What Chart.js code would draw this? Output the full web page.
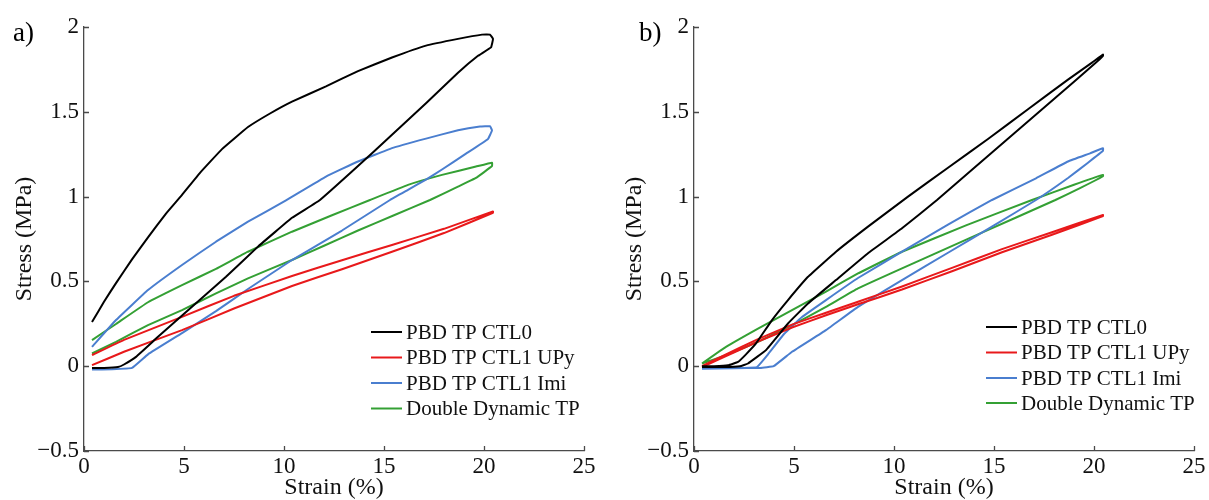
<!DOCTYPE html>
<html><head><meta charset="utf-8">
<script src="https://cdn.jsdelivr.net/npm/chart.js@4.4.0/dist/chart.umd.min.js"></script>
<style>
html,body{margin:0;padding:0;background:#fff;}
#wrap{position:relative;width:1209px;height:500px;overflow:hidden;background:#fff;}
.panel{position:absolute;top:0;height:500px;}
#pa{left:0;width:604px;}
#pb{left:604px;width:605px;}
.lbl{position:absolute;font-family:'Liberation Serif','Times New Roman',serif;font-size:27px;color:#000;line-height:1;}
</style></head><body>
<div id="wrap">
<div class="panel" id="pa"><canvas id="ca" width="604" height="500"></canvas></div>
<div class="panel" id="pb"><canvas id="cb" width="605" height="500"></canvas></div>
<div class="lbl" style="left:13px;top:19px">a)</div>
<div class="lbl" style="left:639px;top:19px">b)</div>
</div>
<script>
// ---------- data ----------
const seriesNames = ['PBD TP CTL0', 'PBD TP CTL1 UPy', 'PBD TP CTL1 Imi', 'Double Dynamic TP'];
const xTickValues = [0, 5, 10, 15, 20, 25];
const xTickLabels = ['0', '5', '10', '15', '20', '25'];
const yTickValues = [-0.5, 0, 0.5, 1, 1.5, 2];
const yTickLabels = ['\u22120.5', '0', '0.5', '1', '1.5', '2'];

// Panel a
const strainA_CTL0 = [0.4, 1.0, 1.6, 2.4, 3.2, 4.1, 4.9, 5.8, 6.9, 8.2, 9.3, 10.4, 12.1, 13.7, 15.4, 17.1, 18.7, 19.9, 20.3, 20.45, 20.35, 19.7, 18.7, 17.1, 15.4, 13.7, 11.8, 10.4, 8.7, 7.1, 5.4, 3.7, 2.6, 2.0, 1.7, 1.0, 0.4];
const stressA_CTL0 = [0.26, 0.38, 0.49, 0.63, 0.76, 0.90, 1.01, 1.14, 1.28, 1.41, 1.49, 1.56, 1.65, 1.74, 1.82, 1.89, 1.93, 1.955, 1.955, 1.93, 1.88, 1.83, 1.73, 1.55, 1.365, 1.18, 0.98, 0.875, 0.705, 0.527, 0.35, 0.173, 0.055, 0.01, -0.005, -0.01, -0.01];

const strainA_UPy = [0.4, 2.0, 4.9, 7.5, 10.4, 12.9, 15.4, 18.0, 20.45, 20.45, 18.0, 15.4, 12.9, 10.4, 7.5, 4.9, 2.0, 0.4];
const stressA_UPy = [0.065, 0.155, 0.291, 0.415, 0.532, 0.625, 0.715, 0.81, 0.912, 0.905, 0.785, 0.675, 0.572, 0.473, 0.34, 0.213, 0.085, 0.006];

const strainA_Imi = [0.4, 1.6, 3.2, 4.9, 6.6, 8.2, 10.1, 12.1, 13.7, 15.4, 17.1, 18.7, 19.8, 20.3, 20.4, 20.2, 19.1, 17.9, 17.1, 16.2, 15.3, 12.9, 10.4, 8.2, 6.6, 4.9, 3.2, 2.4, 1.4, 0.4];
const stressA_Imi = [0.114, 0.272, 0.449, 0.597, 0.734, 0.852, 0.978, 1.118, 1.207, 1.286, 1.342, 1.391, 1.413, 1.415, 1.39, 1.34, 1.253, 1.16, 1.10, 1.04, 0.98, 0.80, 0.626, 0.455, 0.325, 0.195, 0.07, -0.01, -0.018, -0.02];

const strainA_DD = [0.4, 1.6, 3.2, 4.9, 6.6, 8.2, 10.4, 12.4, 14.3, 16.2, 17.9, 19.6, 20.4, 20.4, 19.6, 18.7, 17.3, 15.5, 13.7, 12.0, 10.4, 8.2, 6.6, 4.9, 3.2, 1.6, 0.4];
const stressA_DD = [0.154, 0.249, 0.377, 0.478, 0.574, 0.675, 0.793, 0.89, 0.98, 1.069, 1.128, 1.177, 1.20, 1.18, 1.11, 1.059, 0.98, 0.89, 0.80, 0.71, 0.626, 0.518, 0.429, 0.331, 0.242, 0.144, 0.075];

// Panel b
const strainB_CTL0 = [0.4, 1.0, 1.7, 2.2, 2.6, 3.1, 3.9, 4.7, 5.7, 7.1, 8.7, 10.7, 12.7, 14.7, 16.7, 18.7, 19.9, 20.45, 20.45, 20.0, 18.0, 16.0, 14.0, 12.15, 10.4, 8.7, 7.1, 5.7, 4.7, 3.6, 2.7, 2.3, 1.5, 0.4];
const stressB_CTL0 = [0.0, 0.0, 0.005, 0.025, 0.07, 0.134, 0.272, 0.39, 0.527, 0.675, 0.823, 1.0, 1.17, 1.34, 1.515, 1.69, 1.79, 1.837, 1.83, 1.78, 1.575, 1.372, 1.168, 0.98, 0.813, 0.666, 0.508, 0.37, 0.252, 0.095, 0.016, 0.0, -0.005, -0.005];

const strainB_UPy = [0.4, 1.6, 3.2, 4.9, 6.6, 8.2, 10.4, 12.9, 15.4, 17.9, 20.45, 20.45, 17.9, 15.4, 12.9, 10.4, 8.2, 6.6, 4.9, 3.2, 1.6, 0.4];
const stressB_UPy = [0.0, 0.07, 0.16, 0.245, 0.315, 0.38, 0.47, 0.58, 0.69, 0.79, 0.892, 0.885, 0.775, 0.672, 0.56, 0.452, 0.365, 0.30, 0.228, 0.145, 0.06, -0.005];

const strainB_Imi = [0.4, 1.5, 2.5, 3.15, 3.7, 4.5, 5.4, 6.6, 8.2, 10.4, 12.7, 14.9, 17.1, 18.7, 19.8, 20.45, 20.45, 19.7, 18.7, 17.1, 15.0, 12.7, 10.4, 8.2, 6.6, 4.9, 3.98, 3.3, 2.0, 0.4];
const stressB_Imi = [-0.015, -0.012, -0.01, -0.005, 0.07, 0.19, 0.29, 0.39, 0.52, 0.675, 0.835, 0.98, 1.108, 1.207, 1.255, 1.285, 1.27, 1.20, 1.11, 0.98, 0.83, 0.669, 0.508, 0.35, 0.213, 0.085, 0.0, -0.01, -0.012, -0.015];

const strainB_DD = [0.4, 1.6, 3.2, 4.9, 6.6, 8.2, 10.4, 13.6, 16.9, 19.0, 20.45, 20.45, 19.3, 18.07, 14.2, 10.4, 8.2, 6.6, 4.9, 3.2, 1.6, 0.4];
const stressB_DD = [0.016, 0.114, 0.222, 0.331, 0.44, 0.547, 0.675, 0.83, 0.98, 1.07, 1.128, 1.12, 1.05, 0.98, 0.777, 0.577, 0.459, 0.35, 0.242, 0.144, 0.065, 0.016];

// ---------- styling ----------
const seriesColors = ['#000000', '#e8191b', '#4a7ecf', '#34a034'];
const FONT = "'Liberation Serif', 'Times New Roman', serif";
const axisColor = '#4a4a4a';
const textColor = '#111111';

function pts(xs, ys) { return xs.map((x, i) => ({x: x, y: ys[i]})); }

const inwardTicks = {
  id: 'inwardTicks',
  afterDraw(chart) {
    const {ctx, chartArea} = chart;
    const x = chart.scales.x, y = chart.scales.y;
    ctx.save();
    ctx.strokeStyle = axisColor;
    ctx.lineWidth = 1.3;
    ctx.beginPath();
    x.ticks.forEach(t => {
      const px = Math.round(x.getPixelForValue(t.value)) + 0.5;
      ctx.moveTo(px, chartArea.bottom);
      ctx.lineTo(px, chartArea.bottom - 5);
    });
    y.ticks.forEach(t => {
      const py = Math.round(y.getPixelForValue(t.value)) + 0.5;
      ctx.moveTo(chartArea.left, py);
      ctx.lineTo(chartArea.left + 5, py);
    });
    ctx.stroke();
    ctx.restore();
  }
};

const innerLegend = {
  id: 'innerLegend',
  afterDraw(chart, args, opts) {
    const ctx = chart.ctx;
    ctx.save();
    ctx.font = '21px ' + FONT;
    ctx.textBaseline = 'middle';
    ctx.textAlign = 'left';
    chart.data.datasets.forEach((ds, i) => {
      const yy = opts.rows[i];
      ctx.strokeStyle = ds.borderColor;
      ctx.lineWidth = 2;
      ctx.beginPath();
      ctx.moveTo(opts.x1, yy);
      ctx.lineTo(opts.x2, yy);
      ctx.stroke();
      ctx.fillStyle = textColor;
      ctx.fillText(ds.label, opts.tx, yy + 1);
    });
    ctx.restore();
  }
};

function makeChart(canvasId, seriesX, seriesY, cfg) {
  const datasets = seriesNames.map((name, i) => ({
    label: name,
    data: pts(seriesX[i], seriesY[i]),
    showLine: true,
    borderColor: seriesColors[i],
    backgroundColor: seriesColors[i],
    borderWidth: 2,
    borderJoinStyle: 'round',
    pointRadius: 0,
    tension: 0.08,
    fill: false
  }));
  return new Chart(document.getElementById(canvasId), {
    type: 'scatter',
    data: {datasets: datasets},
    options: {
      responsive: false,
      animation: false,
      events: [],
      layout: {padding: {top: 27, right: cfg.padRight, bottom: 0, left: 0}},
      plugins: {
        legend: {display: false},
        tooltip: {enabled: false},
        innerLegend: cfg.legend
      },
      scales: {
        x: {
          type: 'linear', min: 0, max: 25,
          afterBuildTicks: s => { s.ticks = xTickValues.map(v => ({value: v})); },
          afterFit: s => { s.height = 49; },
          grid: {display: false, drawTicks: false},
          border: {display: true, color: axisColor, width: 1.3},
          ticks: {
            padding: 2,
            color: textColor,
            font: {family: FONT, size: 23},
            maxRotation: 0,
            callback: v => xTickLabels[xTickValues.indexOf(v)]
          },
          title: {display: true, text: 'Strain (%)', color: textColor,
                  font: {family: FONT, size: 24, lineHeight: 1}, padding: {top: 0, bottom: 0}}
        },
        y: {
          type: 'linear', min: -0.5, max: 2,
          afterBuildTicks: s => { s.ticks = yTickValues.map(v => ({value: v})); },
          afterFit: s => { s.width = cfg.yWidth; },
          grid: {display: false, drawTicks: false},
          border: {display: true, color: axisColor, width: 1.3},
          ticks: {
            padding: 5,
            color: textColor,
            font: {family: FONT, size: 23},
            callback: v => yTickLabels[yTickValues.indexOf(v)]
          },
          title: {display: true, text: 'Stress (MPa)', color: textColor,
                  font: {family: FONT, size: 24, lineHeight: 1}, padding: {top: cfg.yTitlePad, bottom: 0}}
        }
      }
    },
    plugins: [inwardTicks, innerLegend]
  });
}

makeChart('ca',
  [strainA_CTL0, strainA_UPy, strainA_Imi, strainA_DD],
  [stressA_CTL0, stressA_UPy, stressA_Imi, stressA_DD],
  {padRight: 20, yWidth: 84, yTitlePad: 13,
   legend: {x1: 371, x2: 402, tx: 406, rows: [332, 357.5, 383, 408.5]}});

makeChart('cb',
  [strainB_CTL0, strainB_UPy, strainB_Imi, strainB_DD],
  [stressB_CTL0, stressB_UPy, stressB_Imi, stressB_DD],
  {padRight: 15, yWidth: 90, yTitlePad: 19,
   legend: {x1: 382, x2: 413, tx: 417, rows: [327, 352.5, 378, 403]}});
</script>
</body></html>
